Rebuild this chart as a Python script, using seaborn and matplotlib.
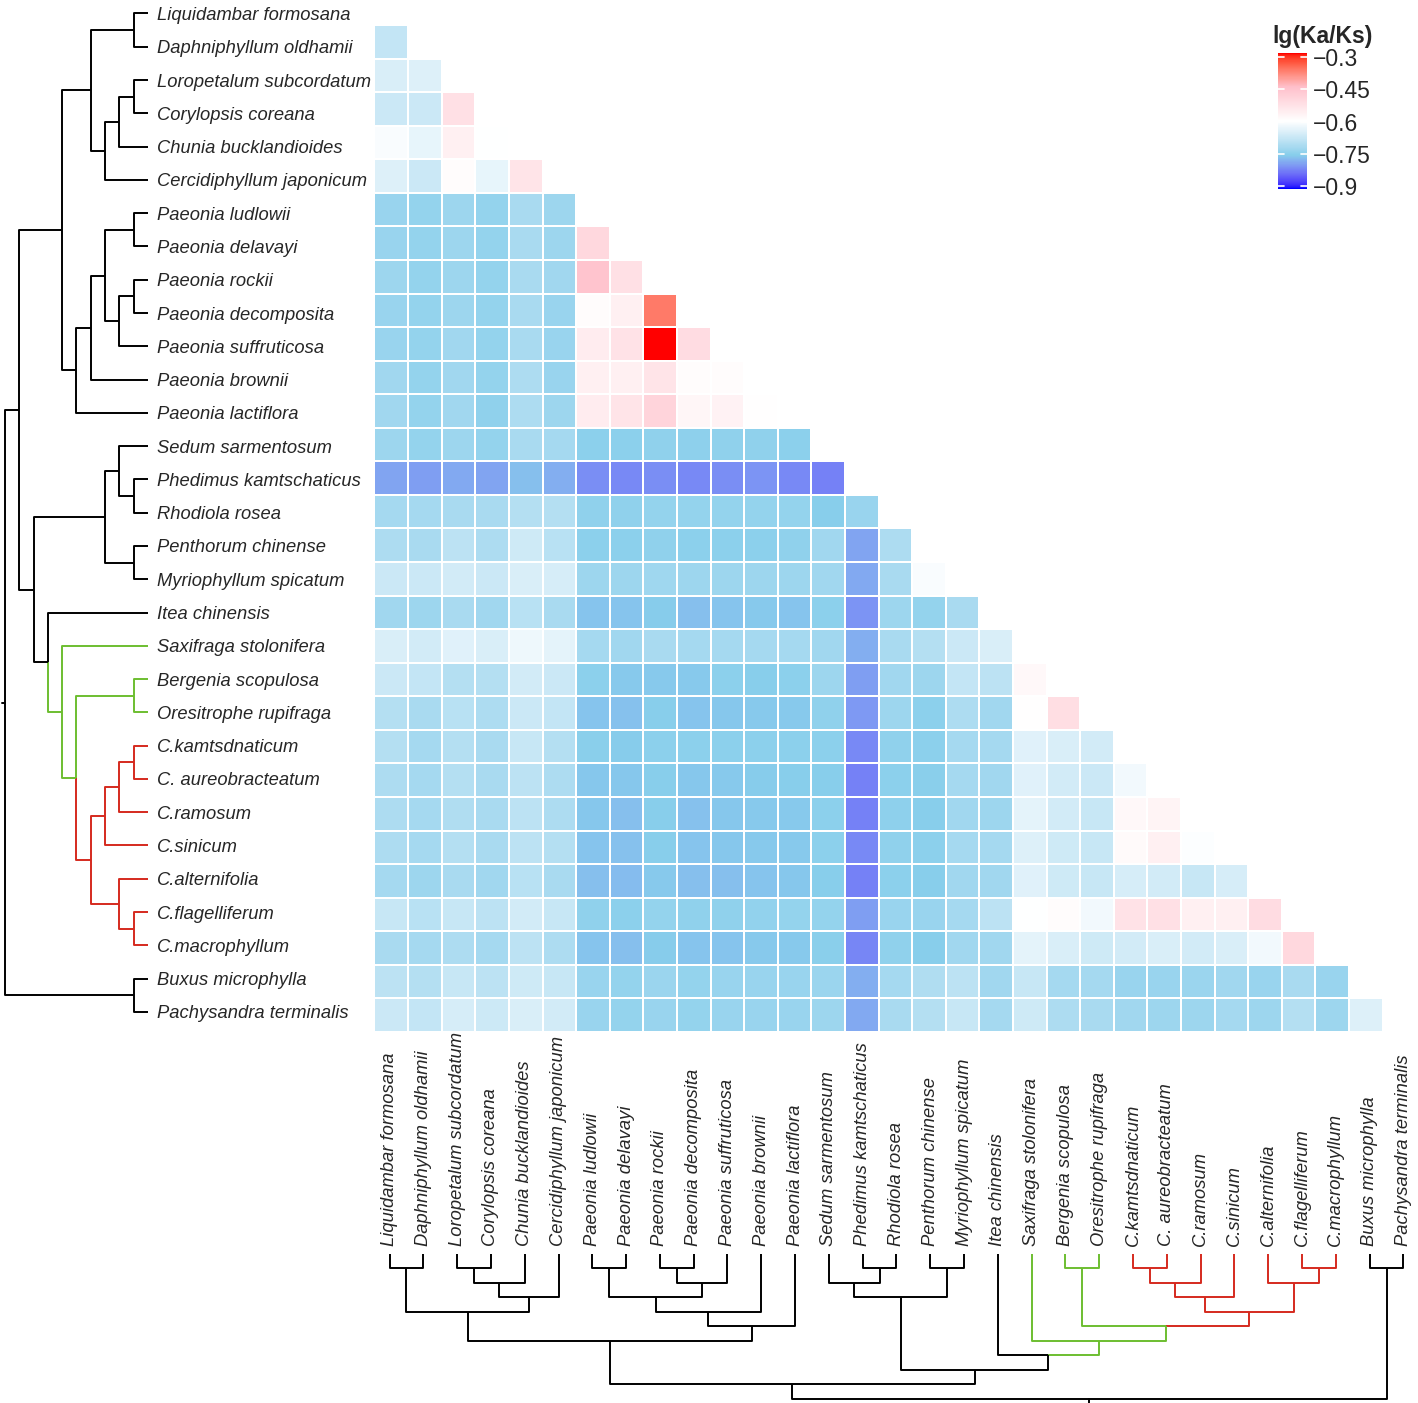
import numpy as np
import pandas as pd
import matplotlib
matplotlib.use("Agg")
import matplotlib.pyplot as plt
import seaborn as sns
from matplotlib.colors import ListedColormap, to_rgb
from matplotlib.cm import ScalarMappable
from matplotlib.colors import Normalize

# species, in dendrogram order (rows top->bottom, columns left->right)
species = ["Liquidambar formosana", "Daphniphyllum oldhamii", "Loropetalum subcordatum",
           "Corylopsis coreana", "Chunia bucklandioides", "Cercidiphyllum japonicum",
           "Paeonia ludlowii", "Paeonia delavayi", "Paeonia rockii", "Paeonia decomposita",
           "Paeonia suffruticosa", "Paeonia brownii", "Paeonia lactiflora",
           "Sedum sarmentosum", "Phedimus kamtschaticus", "Rhodiola rosea",
           "Penthorum chinense", "Myriophyllum spicatum", "Itea chinensis",
           "Saxifraga stolonifera", "Bergenia scopulosa", "Oresitrophe rupifraga",
           "C.kamtsdnaticum", "C. aureobracteatum", "C.ramosum", "C.sinicum",
           "C.alternifolia", "C.flagelliferum", "C.macrophyllum",
           "Buxus microphylla", "Pachysandra terminalis"]

# lg(Ka/Ks), lower triangle, one list per row (row i holds columns 0..i-1)
row01 = [-0.68]
row02 = [-0.65, -0.645]
row03 = [-0.67, -0.67, -0.52]
row04 = [-0.605, -0.63, -0.56, -0.598]
row05 = [-0.645, -0.67, -0.59, -0.63, -0.53]
row06 = [-0.735, -0.74, -0.73, -0.74, -0.715, -0.73]
row07 = [-0.735, -0.74, -0.73, -0.74, -0.715, -0.73, -0.50]
row08 = [-0.73, -0.74, -0.73, -0.74, -0.715, -0.725, -0.45, -0.52]
row09 = [-0.735, -0.74, -0.73, -0.74, -0.715, -0.735, -0.59, -0.56, -0.36]
row10 = [-0.735, -0.74, -0.725, -0.74, -0.715, -0.735, -0.55, -0.525, -0.281, -0.51]
row11 = [-0.725, -0.74, -0.725, -0.74, -0.71, -0.735, -0.56, -0.56, -0.53, -0.59, -0.59]
row12 = [-0.725, -0.74, -0.725, -0.745, -0.71, -0.73, -0.55, -0.53, -0.49, -0.575, -0.565,
         -0.595]
row13 = [-0.73, -0.74, -0.73, -0.74, -0.715, -0.72, -0.75, -0.75, -0.745, -0.748, -0.745,
         -0.745, -0.75]
row14 = [-0.795, -0.80, -0.79, -0.795, -0.77, -0.785, -0.815, -0.82, -0.815, -0.82, -0.815,
         -0.81, -0.818, -0.825]
row15 = [-0.72, -0.72, -0.715, -0.715, -0.70, -0.70, -0.745, -0.745, -0.74, -0.74, -0.74,
         -0.74, -0.74, -0.755, -0.735]
row16 = [-0.71, -0.715, -0.69, -0.71, -0.665, -0.695, -0.75, -0.75, -0.745, -0.75, -0.75,
         -0.75, -0.745, -0.725, -0.795, -0.71]
row17 = [-0.67, -0.67, -0.66, -0.67, -0.65, -0.655, -0.73, -0.73, -0.728, -0.73, -0.73,
         -0.73, -0.73, -0.725, -0.79, -0.715, -0.605]
row18 = [-0.725, -0.73, -0.715, -0.725, -0.695, -0.715, -0.765, -0.765, -0.757, -0.77, -0.765,
         -0.76, -0.765, -0.75, -0.81, -0.73, -0.74, -0.715]
row19 = [-0.65, -0.66, -0.64, -0.65, -0.62, -0.635, -0.72, -0.725, -0.715, -0.72, -0.72,
         -0.72, -0.72, -0.725, -0.785, -0.715, -0.70, -0.67, -0.65]
row20 = [-0.67, -0.68, -0.70, -0.70, -0.66, -0.67, -0.75, -0.76, -0.76, -0.76, -0.75,
         -0.755, -0.75, -0.73, -0.80, -0.725, -0.73, -0.68, -0.69, -0.58]
row21 = [-0.70, -0.715, -0.695, -0.71, -0.67, -0.68, -0.765, -0.767, -0.755, -0.765, -0.763,
         -0.76, -0.76, -0.745, -0.805, -0.73, -0.75, -0.71, -0.725, -0.595, -0.515]
row22 = [-0.70, -0.72, -0.70, -0.715, -0.675, -0.70, -0.752, -0.757, -0.75, -0.75, -0.75,
         -0.75, -0.75, -0.75, -0.82, -0.745, -0.75, -0.72, -0.72, -0.64, -0.65, -0.66]
row23 = [-0.71, -0.72, -0.70, -0.715, -0.69, -0.71, -0.763, -0.763, -0.755, -0.763, -0.76,
         -0.757, -0.755, -0.755, -0.825, -0.75, -0.752, -0.72, -0.725, -0.64, -0.66, -0.67,
         -0.615]
row24 = [-0.71, -0.72, -0.705, -0.715, -0.69, -0.71, -0.763, -0.77, -0.755, -0.767, -0.763,
         -0.76, -0.76, -0.75, -0.825, -0.748, -0.755, -0.725, -0.73, -0.635, -0.66, -0.675,
         -0.58, -0.57]
row25 = [-0.71, -0.72, -0.70, -0.715, -0.69, -0.70, -0.765, -0.767, -0.755, -0.765, -0.763,
         -0.76, -0.76, -0.75, -0.82, -0.745, -0.75, -0.72, -0.72, -0.645, -0.665, -0.675,
         -0.585, -0.56, -0.60]
row26 = [-0.72, -0.73, -0.715, -0.725, -0.695, -0.715, -0.77, -0.772, -0.76, -0.77, -0.77,
         -0.765, -0.763, -0.755, -0.825, -0.75, -0.755, -0.725, -0.725, -0.64, -0.665, -0.675,
         -0.655, -0.66, -0.675, -0.655]
row27 = [-0.675, -0.695, -0.675, -0.69, -0.66, -0.675, -0.745, -0.75, -0.74, -0.745, -0.745,
         -0.742, -0.74, -0.74, -0.80, -0.735, -0.735, -0.72, -0.69, -0.598, -0.59, -0.615,
         -0.525, -0.52, -0.56, -0.56, -0.51]
row28 = [-0.715, -0.72, -0.71, -0.72, -0.69, -0.71, -0.765, -0.77, -0.757, -0.765, -0.765,
         -0.76, -0.76, -0.752, -0.822, -0.745, -0.755, -0.725, -0.725, -0.635, -0.65, -0.665,
         -0.66, -0.65, -0.66, -0.65, -0.615, -0.50]
row29 = [-0.69, -0.70, -0.675, -0.69, -0.665, -0.675, -0.735, -0.74, -0.733, -0.74, -0.735,
         -0.735, -0.735, -0.733, -0.785, -0.72, -0.705, -0.69, -0.725, -0.675, -0.72, -0.72,
         -0.735, -0.735, -0.733, -0.725, -0.735, -0.715, -0.735]
row30 = [-0.67, -0.68, -0.655, -0.668, -0.65, -0.66, -0.735, -0.74, -0.735, -0.74, -0.735,
         -0.735, -0.735, -0.73, -0.79, -0.715, -0.70, -0.675, -0.72, -0.665, -0.71, -0.715,
         -0.725, -0.73, -0.73, -0.72, -0.73, -0.70, -0.73, -0.645]

rows = [row01, row02, row03, row04, row05, row06, row07, row08, row09, row10,
        row11, row12, row13, row14, row15, row16, row17, row18, row19, row20,
        row21, row22, row23, row24, row25, row26, row27, row28, row29, row30]

# tree topology (leaf = index into species)
liq_clade = ((0, 1), (((2, 3), 4), 5))
paeonia_clade = ((((6, 7), ((8, 9), 10)), 11), 12)
sedum_clade = ((13, (14, 15)), (16, 17))
chryso_clade = ((((22, 23), 24), 25), (26, (27, 28)))
saxi_clade = (19, ((20, 21), chryso_clade))
tree = (((liq_clade, paeonia_clade), (sedum_clade, (18, saxi_clade))), (29, 30))

green_leaves = set(range(19, 29))
red_leaves = set(range(22, 29))

cbar_ticks = [-0.3, -0.45, -0.6, -0.75, -0.9]
cbar_labels = ["\u22120.3", "\u22120.45", "\u22120.6", "\u22120.75", "\u22120.9"]
VMIN, VMAX = -0.914, -0.281

n = len(species)
mat = np.full((n, n), np.nan)
for i, r in enumerate(rows, start=1):
    assert len(r) == i
    mat[i, :i] = r
df = pd.DataFrame(mat, index=species, columns=species)


# gradient blue-skyblue-white-pink-red interpolated in Lab (like ggplot)
def _lin(c):
    c = np.asarray(c, float)
    return np.where(c <= 0.04045, c / 12.92, ((c + 0.055) / 1.055) ** 2.4)


def _gam(c):
    c = np.clip(c, 0, 1)
    return np.where(c <= 0.0031308, 12.92 * c, 1.055 * c ** (1 / 2.4) - 0.055)


M = np.array([[0.4124, 0.3576, 0.1805], [0.2126, 0.7152, 0.0722], [0.0193, 0.1192, 0.9505]])
WP = M @ np.ones(3)


def to_lab(rgb):
    xyz = M @ _lin(rgb) / WP
    f = np.where(xyz > 0.008856, np.cbrt(xyz), 7.787 * xyz + 16 / 116)
    return np.array([116 * f[1] - 16, 500 * (f[0] - f[1]), 200 * (f[1] - f[2])])


def from_lab(lab):
    L, a, b = lab
    fy = (L + 16) / 116
    f = np.array([fy + a / 500, fy, fy - b / 200])
    xyz = np.where(f ** 3 > 0.008856, f ** 3, (f - 16 / 116) / 7.787) * WP[:, None]
    return _gam(np.linalg.inv(M) @ xyz).T


nodes = np.array([to_lab(to_rgb(c)) for c in ["blue", "skyblue", "white", "pink", "red"]])
pos = np.linspace(0, 1, len(nodes))
t = np.linspace(0, 1, 256)
lab = np.array([np.interp(t, pos, nodes[:, k]) for k in range(3)])
cmap = ListedColormap(from_lab(lab))

sns.set_style("white")
plt.rcParams["font.family"] = ["Liberation Sans", "DejaVu Sans"]

W, H = 1418, 1403
fig = plt.figure(figsize=(W / 100, H / 100), dpi=100)


def px_axes(x0, y0, x1, y1):
    return fig.add_axes([x0 / W, 1 - y1 / H, (x1 - x0) / W, (y1 - y0) / H])


# heatmap
ax_hm = px_axes(374.5, 25 - 33.57, 374.5 + 31 * 33.6, 1032)
sns.heatmap(df, mask=df.isna(), cmap=cmap, vmin=VMIN, vmax=VMAX, cbar=False,
            linewidths=1.1, linecolor="white", xticklabels=False, yticklabels=False, ax=ax_hm)
ax_hm.set_xlabel("")
ax_hm.set_ylabel("")


# dendrogram segments
def build(node, segs):
    if isinstance(node, int):
        return node, 0, {node}
    kids = [build(c, segs) for c in node]
    p = np.mean([k[0] for k in kids])
    h = max(k[1] for k in kids) + 1
    leaves = set().union(*[k[2] for k in kids])
    for cp, ch, cl in kids:
        if cl <= red_leaves:
            col = "#D52A1E"
        elif cl <= green_leaves:
            col = "#6CBE30"
        else:
            col = "black"
        segs.append((p, cp, h, ch, col))
    return p, h, leaves


segs = []
root_pos, root_h, _ = build(tree, segs)
step = 14.5

# left dendrogram (rows)
ax_l = px_axes(0, 13.5 - 16.64, 148, 13.5 + 30.5 * 33.28)
for p, cp, h, ch, col in segs:
    ax_l.plot([h, h, ch], [p, cp, cp], color=col, lw=1.4, solid_capstyle="butt")
ax_l.plot([root_h, root_h + 0.2], [root_pos, root_pos], color="black", lw=1.4)
ax_l.set_xlim(150 / step, 0)
ax_l.set_ylim(n - 0.5, -0.5)
ax_l.yaxis.tick_right()
ax_l.set_yticks(range(n))
ax_l.set_yticklabels(species, fontsize=13.2, style="italic")
ax_l.tick_params(axis="y", length=0, pad=6.5)
ax_l.set_xticks([])
for s in ax_l.spines.values():
    s.set_visible(False)
ax_l.patch.set_alpha(0)

# bottom dendrogram (columns)
pitch = 33.8
ax_b = px_axes(389.5 - pitch / 2, 1253.5, 389.5 + 30.5 * pitch, 1403)
for p, cp, h, ch, col in segs:
    ax_b.plot([p, cp, cp], [h, h, ch], color=col, lw=1.4, solid_capstyle="butt")
ax_b.plot([root_pos, root_pos], [root_h, root_h + 0.3], color="black", lw=1.4)
ax_b.set_ylim(149.5 / step, 0)
ax_b.set_xlim(-0.5, n - 0.5)
ax_b.xaxis.tick_top()
ax_b.set_xticks(range(n))
ax_b.set_xticklabels(species, fontsize=13.2, style="italic", rotation=90)
ax_b.tick_params(axis="x", length=0, pad=5.5)
ax_b.set_yticks([])
for s in ax_b.spines.values():
    s.set_visible(False)
ax_b.patch.set_alpha(0)

# colour bar
cax = px_axes(1278, 53, 1307, 189)
cb = fig.colorbar(ScalarMappable(norm=Normalize(VMIN, VMAX), cmap=cmap), cax=cax)
cb.outline.set_visible(False)
cb.set_ticks(cbar_ticks)
cb.set_ticklabels(cbar_labels)
cax.tick_params(length=0, pad=4, labelsize=16.5)
for tv in cbar_ticks:
    cax.plot([0, 0.2], [tv, tv], color="white", lw=1.2)
    cax.plot([0.8, 1], [tv, tv], color="white", lw=1.2)
cax.set_xlim(0, 1)
fig.text(1272 / W, 1 - 36 / H, "lg(Ka/Ks)", fontsize=16.5, fontweight="bold",
         ha="left", va="center")

fig.savefig("out.png", dpi=100)
